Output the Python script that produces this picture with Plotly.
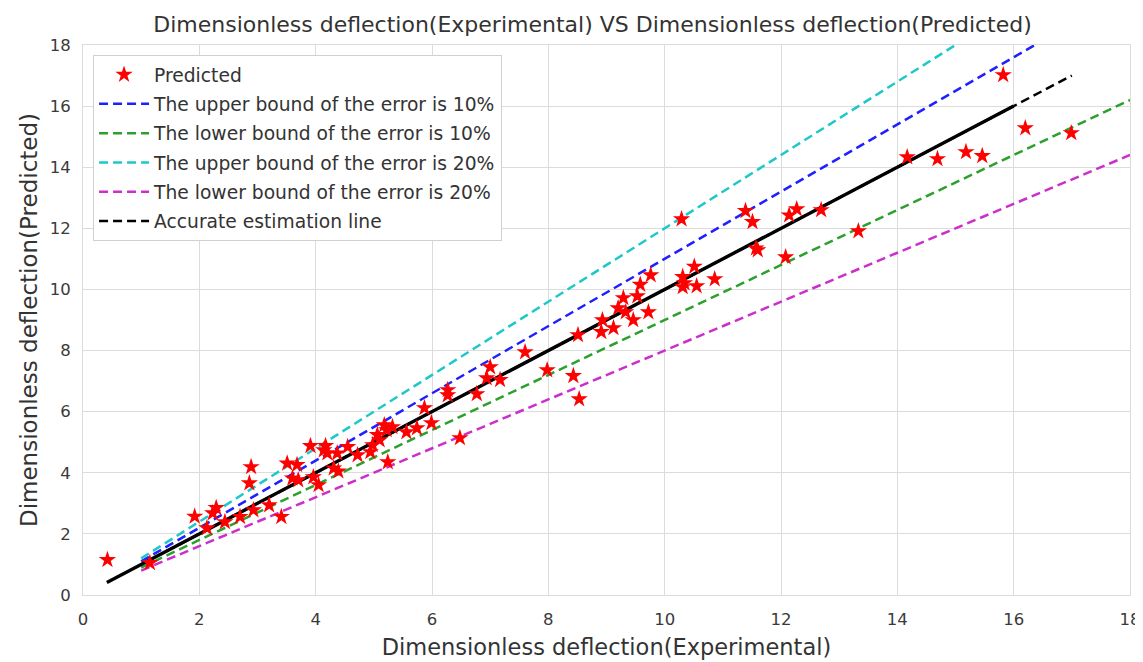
import plotly.graph_objects as go

# Experimental (x) and predicted (y) dimensionless deflections
exp_vals = [0.42, 1.15, 1.92, 2.13, 2.23, 2.29, 2.44, 2.70, 2.86, 2.89, 2.93, 3.20, 3.41, 3.51,
            3.60, 3.68, 3.70, 3.91, 3.96, 4.05, 4.14, 4.17, 4.20, 4.31, 4.37, 4.39, 4.55, 4.72,
            4.94, 4.98, 5.06, 5.10, 5.18, 5.22, 5.24, 5.32, 5.56, 5.74, 5.87, 5.99, 6.27, 6.27,
            6.48, 6.77, 6.94, 7.00, 7.17, 7.60, 7.98, 8.43, 8.53, 8.51, 8.91, 8.93, 9.12, 9.20,
            9.29, 9.33, 9.46, 9.53, 9.58, 9.72, 9.76, 10.29, 10.31, 10.31, 10.34, 10.51, 10.55,
            10.86, 11.39, 11.51, 11.57, 11.60, 12.08, 12.14, 12.27, 12.69, 13.33, 14.17, 14.69,
            15.18, 15.46, 15.82, 16.20, 16.99]
pred_vals = [1.15, 1.05, 2.57, 2.19, 2.68, 2.85, 2.39, 2.56, 3.66, 4.19, 2.78, 2.94, 2.56, 4.31,
             3.82, 4.26, 3.76, 4.88, 3.86, 3.60, 4.74, 4.88, 4.64, 4.15, 4.64, 4.05, 4.85, 4.58,
             4.68, 4.91, 5.24, 5.07, 5.56, 5.40, 4.35, 5.50, 5.33, 5.46, 6.12, 5.63, 6.71, 6.54,
             5.14, 6.58, 7.10, 7.46, 7.04, 7.95, 7.36, 7.17, 6.41, 8.51, 8.61, 9.00, 8.74, 9.39,
             9.72, 9.26, 9.00, 9.78, 10.16, 9.26, 10.47, 12.30, 10.41, 10.08, 10.21, 10.75, 10.11,
             10.34, 12.57, 12.21, 11.35, 11.29, 11.06, 12.43, 12.63, 12.60, 11.91, 14.33, 14.27,
             14.50, 14.37, 17.02, 15.28, 15.12]

# Reference lines
bound_x = [1, 18]
ideal_dashed_x = [1, 17]
ideal_solid_x = [0.41, 16.0]
bounds = [
    ("The upper bound of the error is 10%", 1.1, "#1f1fff"),
    ("The lower bound of the error is 10%", 0.9, "#2ca02c"),
    ("The upper bound of the error is 20%", 1.2, "#1fc8c8"),
    ("The lower bound of the error is 20%", 0.8, "#cc2ecc"),
]
x_ticks = list(range(0, 19, 2))
y_ticks = list(range(0, 19, 2))

fig = go.Figure()
for i, (name, k, col) in enumerate(bounds):
    fig.add_trace(go.Scatter(
        x=bound_x, y=[k * v for v in bound_x], mode="lines", name=name,
        legendgroup=f"g{i + 1}", legendrank=2 + i,
        line=dict(color=col, width=2.5, dash="9px,5px")))
fig.add_trace(go.Scatter(
    x=ideal_dashed_x, y=ideal_dashed_x, mode="lines", name="Accurate estimation line",
    legendgroup="g5", legendrank=10,
    line=dict(color="black", width=2.5, dash="9px,5px")))
fig.add_trace(go.Scatter(
    x=ideal_solid_x, y=ideal_solid_x, mode="lines", showlegend=False,
    line=dict(color="black", width=3.4)))
fig.add_trace(go.Scatter(
    x=exp_vals, y=pred_vals, mode="markers", name="Predicted",
    legendgroup="g0", legendrank=1,
    marker=dict(symbol="star", color="red", size=13, line=dict(width=0))))

axis_common = dict(
    range=[0, 18], showgrid=True, gridcolor="#dcdcdc", gridwidth=1,
    showline=True, linecolor="#dcdcdc", linewidth=1, mirror=True,
    zeroline=False, ticks="", tickfont=dict(size=16.5, color="#3a3a3a"),
    automargin=False,
)
fig.update_layout(
    width=1135, height=654,
    margin=dict(l=75, r=13, t=37, b=67),
    paper_bgcolor="white", plot_bgcolor="white",
    font=dict(family="DejaVu Sans", color="#333333"),
    title=dict(text="Dimensionless deflection(Experimental) VS Dimensionless deflection(Predicted)",
               x=0.515, xanchor="center", y=0.975, yanchor="middle",
               font=dict(size=22, color="#333333")),
    xaxis=dict(axis_common, tickvals=x_ticks, ticklabelstandoff=9,
               title=dict(text="Dimensionless deflection(Experimental)", font=dict(size=22.5), standoff=11)),
    yaxis=dict(axis_common, tickvals=y_ticks, ticklabelstandoff=8,
               title=dict(text="Dimensionless deflection(Predicted)", font=dict(size=23), standoff=5)),
    legend=dict(x=0.0096, y=0.982, xanchor="left", yanchor="top",
                bgcolor="white", bordercolor="#d0d0d0", borderwidth=1,
                itemwidth=50, tracegroupgap=2,
                font=dict(size=18.7, color="#333333")),
    showlegend=True,
)
fig.write_html("out.html",
               post_script="document.documentElement.style.overflow='hidden';")
